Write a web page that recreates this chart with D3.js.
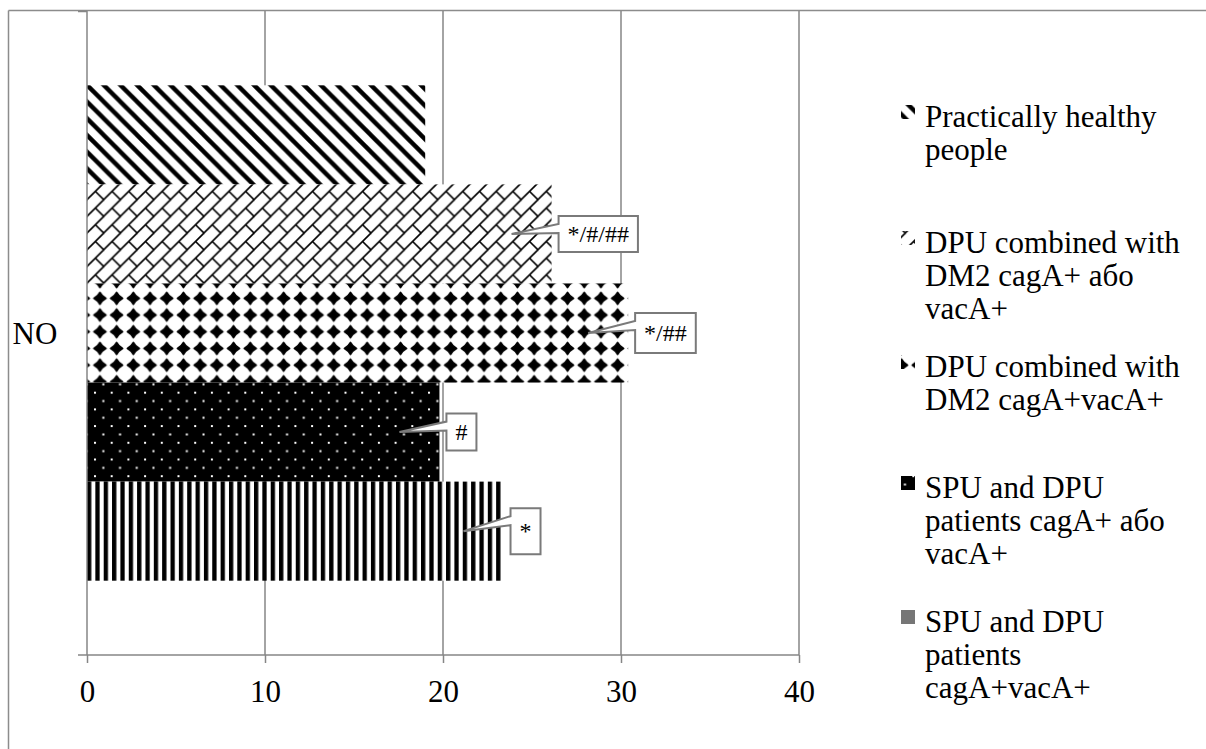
<!DOCTYPE html>
<html>
<head>
<meta charset="utf-8">
<script src="https://cdn.jsdelivr.net/npm/d3@7/dist/d3.min.js"></script>
<style>
  html, body { margin: 0; padding: 0; background: #fff; }
  svg { display: block; }
  text { font-family: "Liberation Serif", "Times New Roman", serif; fill: #000; }
</style>
</head>
<body>
<svg id="chart" width="1206" height="749"></svg>
<script>
// ---------------- data ----------------
const categories = ["NO"];
const seriesNames = [
  "Practically healthy people",
  "DPU combined with DM2 cagA+ або vacA+",
  "DPU combined with DM2 cagA+vacA+",
  "SPU and DPU patients cagA+ або vacA+",
  "SPU and DPU patients cagA+vacA+"
];
const seriesValues = [19.0, 26.1, 30.4, 19.8, 23.4];
const legendLines = [
  ["Practically healthy", "people"],
  ["DPU combined with", "DM2 cagA+ або", "vacA+"],
  ["DPU combined with", "DM2 cagA+vacA+"],
  ["SPU and DPU", "patients cagA+ або", "vacA+"],
  ["SPU and DPU", "patients", "cagA+vacA+"]
];
const annotationLabels = ["", "*/#/##", "*/##", "#", "*"];
const xTicks = [0, 10, 20, 30, 40];

// ---------------- layout ----------------
const W = 1206, H = 749;
const plot = { left: 87, right: 799, top: 11, bottom: 655 };
const gridColor = "#868686";
const fontSize = 31;

const svg = d3.select("#chart");

// patterns
const T = 16.7;
const defs = svg.append("defs");

// 0: wide downward diagonal stripes
let p = defs.append("pattern").attr("id", "pat0").attr("patternUnits", "userSpaceOnUse")
  .attr("width", T).attr("height", T).attr("x", 87).attr("y", 85);
p.append("rect").attr("width", T).attr("height", T).attr("fill", "#fff");
[[-1, -1, T + 1, T + 1], [-6, T - 6, 6, T + 6], [T - 6, -6, T + 6, 6]].forEach(l =>
  p.append("line").attr("x1", l[0]).attr("y1", l[1]).attr("x2", l[2]).attr("y2", l[3])
    .attr("stroke", "#000").attr("stroke-width", 4.4));

// 1: diagonal brick
p = defs.append("pattern").attr("id", "pat1").attr("patternUnits", "userSpaceOnUse")
  .attr("width", T).attr("height", T).attr("x", 87).attr("y", 183);
p.append("rect").attr("width", T).attr("height", T).attr("fill", "#fff");
[[-1, T + 1, T + 1, -1], [-4, 4, 4, -4], [T - 4, T + 4, T + 4, T - 4], [T / 2, T / 2, T + 1, T + 1]].forEach(l =>
  p.append("line").attr("x1", l[0]).attr("y1", l[1]).attr("x2", l[2]).attr("y2", l[3])
    .attr("stroke", "#000").attr("stroke-width", 1.6));

// 2: solid diamonds
p = defs.append("pattern").attr("id", "pat2").attr("patternUnits", "userSpaceOnUse")
  .attr("width", T).attr("height", T).attr("x", 91.6).attr("y", 290);
p.append("rect").attr("width", T).attr("height", T).attr("fill", "#fff");
{
  const c = T / 2, r = 6.0, k = 2.1;
  p.append("path")
    .attr("d", `M${c},${c - r} Q${c + k},${c - k} ${c + r},${c} Q${c + k},${c + k} ${c},${c + r} Q${c - k},${c + k} ${c - r},${c} Q${c - k},${c - k} ${c},${c - r}Z`)
    .attr("fill", "#000").attr("stroke", "#000").attr("stroke-width", 1.6).attr("stroke-linejoin", "round");
}

// 3: black with white dots
p = defs.append("pattern").attr("id", "pat3").attr("patternUnits", "userSpaceOnUse")
  .attr("width", T).attr("height", T).attr("x", 94).attr("y", 391.7);
p.append("rect").attr("width", T).attr("height", T).attr("fill", "#000");
p.append("rect").attr("x", 0).attr("y", 0).attr("width", 2).attr("height", 2).attr("fill", "#fff");
p.append("rect").attr("x", T / 2).attr("y", T / 2).attr("width", 2).attr("height", 2).attr("fill", "#fff");

// 4: dark vertical stripes
p = defs.append("pattern").attr("id", "pat4").attr("patternUnits", "userSpaceOnUse")
  .attr("width", T / 2).attr("height", T).attr("x", 87).attr("y", 482);
p.append("rect").attr("width", T / 2).attr("height", T).attr("fill", "#fff");
p.append("rect").attr("x", 0).attr("width", 4.3).attr("height", T).attr("fill", "#000");

const fills = ["url(#pat0)", "url(#pat1)", "url(#pat2)", "url(#pat3)", "url(#pat4)"];
const legendFills = ["url(#pat0)", "url(#pat1)", "url(#pat2)", "url(#pat3)", "#767676"];

// outer border (top & left)
svg.append("line").attr("x1", 8.5).attr("y1", 10.5).attr("x2", W).attr("y2", 10.5)
  .attr("stroke", "#8c8c8c").attr("stroke-width", 1.5);
svg.append("line").attr("x1", 8.5).attr("y1", 10.5).attr("x2", 8.5).attr("y2", H)
  .attr("stroke", "#8c8c8c").attr("stroke-width", 1.5);

// scales
const x = d3.scaleLinear().domain([0, 40]).range([plot.left, plot.right]);
const yCat = d3.scaleBand().domain(categories).range([plot.top, plot.bottom]);
const barH = yCat.bandwidth() / (seriesNames.length + 1.5);
const ySer = d3.scaleBand().domain(seriesNames)
  .range([yCat("NO") + 0.75 * barH, yCat("NO") + yCat.bandwidth() - 0.75 * barH]);

// gridlines
svg.append("g").selectAll("line").data(xTicks.filter(d => d > 0)).join("line")
  .attr("x1", d => x(d)).attr("x2", d => x(d))
  .attr("y1", plot.top).attr("y2", plot.bottom)
  .attr("stroke", gridColor).attr("stroke-width", 1.5);

// bars
const bars = seriesNames.map((n, i) => ({ name: n, value: seriesValues[i], i }));
svg.append("g").selectAll("rect").data(bars).join("rect")
  .attr("x", x(0)).attr("y", d => ySer(d.name))
  .attr("width", d => x(d.value) - x(0)).attr("height", ySer.bandwidth())
  .attr("fill", d => fills[d.i]);

// y axis (category)
svg.append("line").attr("x1", x(0)).attr("x2", x(0)).attr("y1", plot.top).attr("y2", plot.bottom)
  .attr("stroke", gridColor).attr("stroke-width", 1.5);
svg.append("line").attr("x1", x(0) - 9).attr("x2", x(0)).attr("y1", plot.top + 0.5).attr("y2", plot.top + 0.5)
  .attr("stroke", gridColor).attr("stroke-width", 1.5);
svg.append("g").selectAll("text").data(categories).join("text")
  .attr("x", 35).attr("y", d => yCat(d) + yCat.bandwidth() / 2 + 11)
  .attr("text-anchor", "middle").attr("font-size", fontSize).text(d => d);

// x axis
const xAxis = d3.axisBottom(x).tickValues(xTicks).tickSizeInner(8).tickSizeOuter(0).tickPadding(17);
const gx = svg.append("g").attr("transform", `translate(0,${plot.bottom})`).call(xAxis);
gx.select(".domain").attr("stroke", gridColor).attr("stroke-width", 1.5)
  .attr("d", `M${x(0) - 9},0H${x(40)}`);
gx.selectAll(".tick line").attr("stroke", gridColor).attr("stroke-width", 1.5);
gx.selectAll(".tick text").attr("font-size", fontSize)
  .attr("font-family", "'Liberation Serif', 'Times New Roman', serif").attr("fill", "#000");

// callouts
const calloutH = [0, 36, 40, 37, 46];
const cg = svg.append("g");
bars.forEach(d => {
  const lab = annotationLabels[d.i];
  if (!lab) return;
  const cy = ySer(d.name) + ySer.bandwidth() / 2;
  const end = x(d.value);
  const tipX = end - 40, tipY = cy;
  const g = cg.append("g");
  const t = g.append("text").attr("font-size", 24).text(lab);
  const tw = t.node().getComputedTextLength();
  const bw = tw + 18, bh = calloutH[d.i];
  const bx = end + 7, by = cy - bh / 2;
  g.insert("path", "text")
    .attr("d", `M${tipX},${tipY}L${bx},${by + 8}L${bx},${by}L${bx + bw},${by}L${bx + bw},${by + bh}L${bx},${by + bh}L${bx},${by + 17}Z`)
    .attr("fill", "#fff").attr("stroke", "#7a7a7a").attr("stroke-width", 2).attr("stroke-linejoin", "miter");
  t.attr("x", bx + bw / 2).attr("y", cy + 8).attr("text-anchor", "middle");
});

// legend
const legendBaselines = [127, 253, 377, 498, 632];
const lineH = 33;
const lg = svg.append("g");
legendLines.forEach((lines, i) => {
  const b = legendBaselines[i];
  lg.append("rect").attr("x", 901).attr("y", b - 22).attr("width", 14).attr("height", 14)
    .attr("fill", legendFills[i]);
  const t = lg.append("text").attr("font-size", fontSize);
  lines.forEach((ln, j) => t.append("tspan").attr("x", 925).attr("y", b + j * lineH).text(ln));
});
</script>
</body>
</html>
